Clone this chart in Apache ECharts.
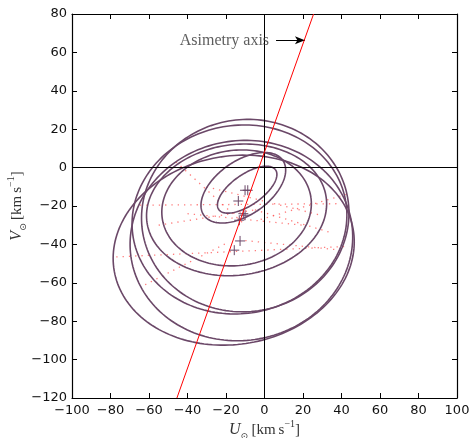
<!DOCTYPE html>
<html><head><meta charset="utf-8">
<script src="https://cdn.jsdelivr.net/npm/echarts@6/dist/echarts.min.js"></script>
<style>html,body{margin:0;padding:0;background:#fff}#c{width:470px;height:438px}</style>
</head><body><div id="c"></div>
<script>
// Axis ranges
const xMin = -100, xMax = 100, xStep = 20;
const yMin = -120, yMax = 80, yStep = 20;

// Velocity ellipses: centre U, centre V, semi-axis a, semi-axis b, tilt (deg)
const ellCU  = [-9,   -11,  -14.5, -14.5, -10,  -13,  -12,  -16];
const ellCV  = [-11.5,-10.5,-21,   -22,   -25,  -27,  -38,  -43];
const ellA   = [18,    25,   39,    47,    54,   56,   58,   63];
const ellB   = [8,     14,   30,    34,    50,   49,   52,   49];
const ellTh  = [35,    35,   8,     8,     10,   10,   10,   10];

// Mean velocity markers (+)
const markU = [-8.7, -10.1, -13.6, -11.0, -10.1, -13.1, -12.7, -15.7];
const markV = [-11.8,-11.8, -17.4, -24.0, -24.8, -27.4, -38.2, -43.0];

// Asymmetry axis end points
const axisU = [-45.5, 25.5];
const axisV = [-120, 80];

// Faint red dotted tracks (start U, start V, end U, end V)
const dotU0 = [-77, -68, -46, -62, -2,  -10, -40, -5,  -55, -30];
const dotV0 = [-46.5,-19.6, 3, -61, -27, -38, -24, -22, -30, -10];
const dotU1 = [44,  39,  -11, -19, 44,  40,  20,  35,  -5,  30];
const dotV1 = [-41, -18.8,-29,-39, -13.5,-43, -30, -34, -22, -25];

// Annotation
const annText = 'Asimetry axis';
const arrowU = [6, 21];
const arrowV = 66.3;

const purple = '#6b4868';
const fmtMinus = v => String(v).replace('-', '\u2212');

const ellData = ellCU.map((u, i) => [u, ellCV[i], ellA[i], ellB[i], ellTh[i]]);
const markData = markU.map((u, i) => [u, markV[i]]);
const dotSeries = dotU0.map((u, i) => ({
  type: 'line', data: [[u, dotV0[i]], [dotU1[i], dotV1[i]]], symbol: 'none', silent: true,
  lineStyle: { color: '#ff5050', width: 1.3, type: [1.3, 5], opacity: 0.75 }, z: 1
}));

const serif = 'Liberation Serif';
const nameRich = {
  i: { fontFamily: serif, fontStyle: 'italic', fontSize: 16, lineHeight: 22, color: '#333' },
  s: { fontFamily: 'DejaVu Sans', fontSize: 9, verticalAlign: 'bottom', lineHeight: 9, color: '#333' },
  n: { fontFamily: serif, fontSize: 15, lineHeight: 22, color: '#333' },
  p: { fontFamily: serif, fontSize: 10, verticalAlign: 'top', lineHeight: 10, color: '#333' }
};

const tickCommon = { show: true, inside: true, length: 5, lineStyle: { color: '#000', width: 1 } };
const lineCommon = { show: true, onZero: false, lineStyle: { color: '#000', width: 1.2 } };
const labelCommon = { fontFamily: 'DejaVu Sans', fontSize: 13, color: '#111', formatter: fmtMinus };

const chart = echarts.init(document.getElementById('c'), null, { renderer: 'canvas' });
chart.setOption({
  animation: false,
  backgroundColor: '#fff',
  grid: { left: 72, right: 13, top: 14, bottom: 40, outerBoundsMode: 'none' },
  xAxis: [
    { type: 'value', position: 'bottom', min: xMin, max: xMax, interval: xStep,
      axisLine: lineCommon, axisTick: tickCommon, splitLine: { show: false },
      axisLabel: Object.assign({ margin: 6 }, labelCommon),
      name: '{i|U}{s|\u2299} {n|[km\u2009s}{p|\u22121}{n|]}', nameLocation: 'middle', nameGap: 21,
      nameMoveOverlap: false,
      nameTextStyle: { rich: nameRich } },
    { type: 'value', position: 'top', min: xMin, max: xMax, interval: xStep,
      axisLine: lineCommon, axisTick: tickCommon, axisLabel: { show: false }, splitLine: { show: false } }
  ],
  yAxis: [
    { type: 'value', position: 'left', min: yMin, max: yMax, interval: yStep,
      axisLine: lineCommon, axisTick: tickCommon, splitLine: { show: false },
      axisLabel: Object.assign({ margin: 5 }, labelCommon),
      name: '{i|V}{s|\u2299} {n|[km\u2009s}{p|\u22121}{n|]}', nameLocation: 'middle', nameGap: 44, nameRotate: 90,
      nameMoveOverlap: false,
      nameTextStyle: { rich: nameRich } },
    { type: 'value', position: 'right', min: yMin, max: yMax, interval: yStep,
      axisLine: lineCommon, axisTick: tickCommon, axisLabel: { show: false }, splitLine: { show: false } }
  ],
  series: [
    ...dotSeries,
    { type: 'line', data: [], silent: true, z: 2,
      markLine: { silent: true, symbol: 'none', label: { show: false },
        lineStyle: { color: '#000', width: 1, type: 'solid' },
        data: [{ xAxis: 0 }, { yAxis: 0 }] } },
    { type: 'custom', z: 3, silent: true, data: ellData,
      renderItem: (params, api) => {
        const cu = api.value(0), cv = api.value(1), a = api.value(2), b = api.value(3), th = api.value(4) * Math.PI / 180;
        const pts = [];
        for (let k = 0; k <= 180; k++) {
          const t = k / 180 * Math.PI * 2;
          const u = cu + a * Math.cos(t) * Math.cos(th) - b * Math.sin(t) * Math.sin(th);
          const v = cv + a * Math.cos(t) * Math.sin(th) + b * Math.sin(t) * Math.cos(th);
          pts.push(api.coord([u, v]));
        }
        return { type: 'polyline', shape: { points: pts }, style: { stroke: purple, lineWidth: 1.6, fill: null } };
      } },
    { type: 'custom', z: 4, silent: true, data: markData,
      renderItem: (params, api) => {
        const p = api.coord([api.value(0), api.value(1)]);
        const h = 5;
        return { type: 'group', children: [
          { type: 'line', shape: { x1: p[0] - h, y1: p[1], x2: p[0] + h, y2: p[1] }, style: { stroke: purple, lineWidth: 1 } },
          { type: 'line', shape: { x1: p[0], y1: p[1] - h, x2: p[0], y2: p[1] + h }, style: { stroke: purple, lineWidth: 1 } }
        ] };
      } },
    { type: 'line', z: 5, data: axisU.map((u, i) => [u, axisV[i]]), symbol: 'none', silent: true,
      lineStyle: { color: '#ff0000', width: 1 } },
    { type: 'scatter', z: 6, data: [[arrowU[0], arrowV]], symbolSize: 0, silent: true,
      label: { show: true, position: 'left', distance: 7, formatter: annText,
        fontFamily: serif, fontSize: 16, color: '#333' },
      markLine: { silent: true, symbol: ['none', 'arrow'], symbolSize: [6, 10], label: { show: false },
        lineStyle: { color: '#000', width: 1, type: 'solid' },
        data: [[{ coord: [arrowU[0], arrowV] }, { coord: [arrowU[1], arrowV] }]] } }
  ]
});
</script></body></html>
